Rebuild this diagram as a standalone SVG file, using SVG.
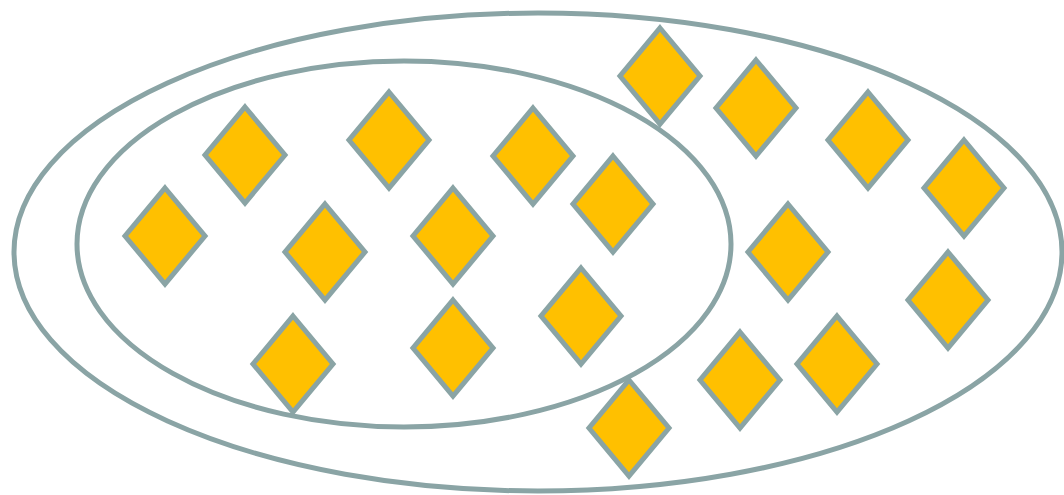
<svg xmlns="http://www.w3.org/2000/svg" width="1064" height="495" viewBox="0 0 1064 495">
<defs>
<style>
.ring{fill:none;stroke:#8AA4A5;stroke-width:5}
.d{fill:#FFC000;stroke:#8AA4A5;stroke-width:5;stroke-linejoin:miter}
</style>
<path id="dm" d="M0,-48 L40,0 L0,48 L-40,0 Z"/>
</defs>
<rect width="1064" height="495" fill="#FFFFFF"/>
<g id="sets">
<ellipse class="ring" cx="538" cy="252" rx="524" ry="239"/>
<ellipse class="ring" cx="404" cy="244" rx="327" ry="183"/>
</g>
<g id="nodes">
<g id="n1"><use href="#dm" class="d" x="660" y="76"/></g>
<g id="n2"><use href="#dm" class="d" x="756" y="108"/></g>
<g id="n3"><use href="#dm" class="d" x="868" y="140"/></g>
<g id="n4"><use href="#dm" class="d" x="964" y="188"/></g>
<g id="n5"><use href="#dm" class="d" x="245" y="155"/></g>
<g id="n6"><use href="#dm" class="d" x="389" y="140"/></g>
<g id="n7"><use href="#dm" class="d" x="533" y="156"/></g>
<g id="n8"><use href="#dm" class="d" x="613" y="204"/></g>
<g id="n9"><use href="#dm" class="d" x="165" y="236"/></g>
<g id="n10"><use href="#dm" class="d" x="325" y="252"/></g>
<g id="n11"><use href="#dm" class="d" x="453" y="236"/></g>
<g id="n12"><use href="#dm" class="d" x="788" y="252"/></g>
<g id="n13"><use href="#dm" class="d" x="948" y="300"/></g>
<g id="n14"><use href="#dm" class="d" x="581" y="316"/></g>
<g id="n15"><use href="#dm" class="d" x="293" y="364"/></g>
<g id="n16"><use href="#dm" class="d" x="453" y="348"/></g>
<g id="n17"><use href="#dm" class="d" x="740" y="380"/></g>
<g id="n18"><use href="#dm" class="d" x="837" y="364"/></g>
<g id="n19"><use href="#dm" class="d" x="629" y="428"/></g>
</g>
<g id="connectors"/>
</svg>
